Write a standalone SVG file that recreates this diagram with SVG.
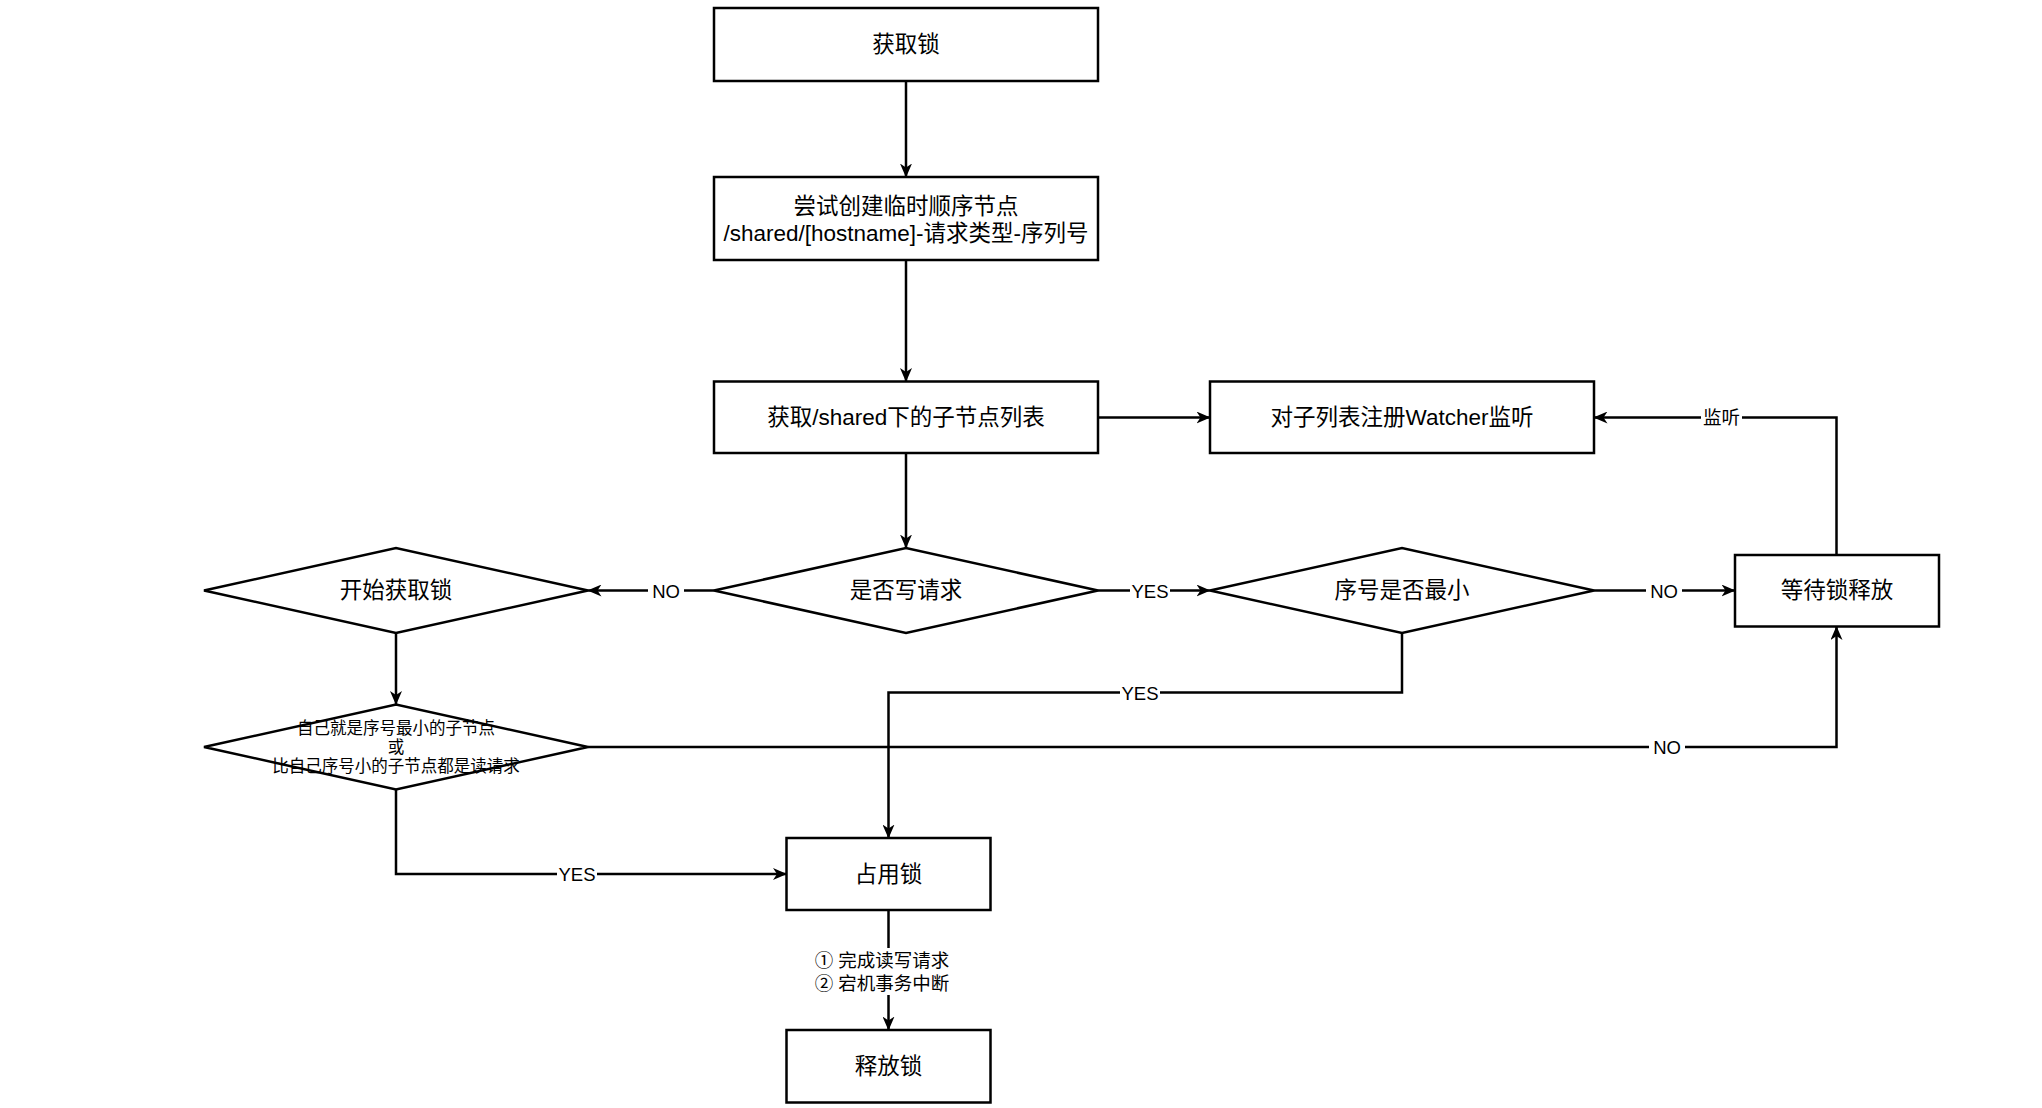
<svg xmlns="http://www.w3.org/2000/svg" width="2042" height="1108" viewBox="0 0 2042 1108">
<style>
.n{fill:#fff;stroke:#000;stroke-width:2.5}
.t{font-family:"Liberation Sans","Noto Sans CJK SC",sans-serif;font-size:22.5px;fill:#000;text-anchor:middle;dominant-baseline:central}
.s{font-size:16.5px}
.l{font-family:"Liberation Sans","Noto Sans CJK SC",sans-serif;font-size:18.5px;fill:#000;text-anchor:middle;dominant-baseline:central}
.e{fill:none;stroke:#000;stroke-width:2.5}
.bg{fill:#fff}
</style>
<defs>
<marker id="a" markerUnits="userSpaceOnUse" markerWidth="14" markerHeight="12" viewBox="0 0 14 12" refX="13.5" refY="6" orient="auto">
<path d="M0,0 L14,6 L0,12 L4,6 Z" fill="#000"/>
</marker>
</defs>
<rect width="2042" height="1108" fill="#fff"/>
<g id="connectors">
<path class="e" d="M906,81 V177" marker-end="url(#a)"/>
<path class="e" d="M906,260 V381.5" marker-end="url(#a)"/>
<path class="e" d="M1098,417.5 H1210" marker-end="url(#a)"/>
<path class="e" d="M906,453 V548" marker-end="url(#a)"/>
<path class="e" d="M714,590.5 H588" marker-end="url(#a)"/>
<path class="e" d="M1098,590.5 H1210" marker-end="url(#a)"/>
<path class="e" d="M1594,590.5 H1735" marker-end="url(#a)"/>
<path class="e" d="M1402,633 V692.5 H888.5 V838" marker-end="url(#a)"/>
<path class="e" d="M396,633 V704.5" marker-end="url(#a)"/>
<path class="e" d="M588,747 H1836.5 V626.5" marker-end="url(#a)"/>
<path class="e" d="M396,789.5 V874 H786.5" marker-end="url(#a)"/>
<path class="e" d="M888.5,910 V1030" marker-end="url(#a)"/>
<path class="e" d="M1836.5,555 V417.5 H1594" marker-end="url(#a)"/>
<rect class="bg" x="648" y="580" width="36" height="22"/>
<text class="l" x="666" y="591">NO</text>
<rect class="bg" x="1130" y="580" width="40" height="22"/>
<text class="l" x="1150" y="591">YES</text>
<rect class="bg" x="1646" y="580" width="36" height="22"/>
<text class="l" x="1664" y="591">NO</text>
<rect class="bg" x="1120" y="682" width="40" height="22"/>
<text class="l" x="1140" y="693">YES</text>
<rect class="bg" x="1649" y="736" width="36" height="22"/>
<text class="l" x="1667" y="747">NO</text>
<rect class="bg" x="557" y="863" width="40" height="22"/>
<text class="l" x="577" y="874">YES</text>
<rect class="bg" x="1701" y="406" width="41" height="22"/>
<text class="l" x="1721.5" y="417">监听</text>
<rect class="bg" x="810" y="948" width="143" height="47"/>
<text class="l" x="882" y="960.5">① 完成读写请求</text>
<text class="l" x="882" y="983.5">② 宕机事务中断</text>
</g>
<g id="n1"><rect class="n" x="714" y="8" width="384" height="73"/><text class="t" x="906" y="44.5">获取锁</text></g>
<g id="n2"><rect class="n" x="714" y="177" width="384" height="83"/><text class="t" x="906" y="206">尝试创建临时顺序节点</text><text class="t" x="906" y="233">/shared/[hostname]-请求类型-序列号</text></g>
<g id="n3"><rect class="n" x="714" y="381.5" width="384" height="71.5"/><text class="t" x="906" y="417.5">获取/shared下的子节点列表</text></g>
<g id="n4"><rect class="n" x="1210" y="381.5" width="384" height="71.5"/><text class="t" x="1402" y="417.5">对子列表注册Watcher监听</text></g>
<g id="d1"><path class="n" d="M714,590.5 L906,548 L1098,590.5 L906,633 Z"/><text class="t" x="906" y="590.5">是否写请求</text></g>
<g id="d2"><path class="n" d="M204,590.5 L396,548 L588,590.5 L396,633 Z"/><text class="t" x="396" y="590.5">开始获取锁</text></g>
<g id="d3"><path class="n" d="M1210,590.5 L1402,548 L1594,590.5 L1402,633 Z"/><text class="t" x="1402" y="590.5">序号是否最小</text></g>
<g id="n5"><rect class="n" x="1735" y="555" width="204" height="71.5"/><text class="t" x="1837" y="590.5">等待锁释放</text></g>
<g id="d4"><path class="n" d="M204,747 L396,704.5 L588,747 L396,789.5 Z"/><text class="t s" x="396" y="727.5">自己就是序号最小的子节点</text><text class="t s" x="396" y="746.5">或</text><text class="t s" x="396" y="765.5">比自己序号小的子节点都是读请求</text></g>
<g id="n6"><rect class="n" x="786.5" y="838" width="204" height="72"/><text class="t" x="888.5" y="874">占用锁</text></g>
<g id="n7"><rect class="n" x="786.5" y="1030" width="204" height="72.5"/><text class="t" x="888.5" y="1066">释放锁</text></g>
</svg>
